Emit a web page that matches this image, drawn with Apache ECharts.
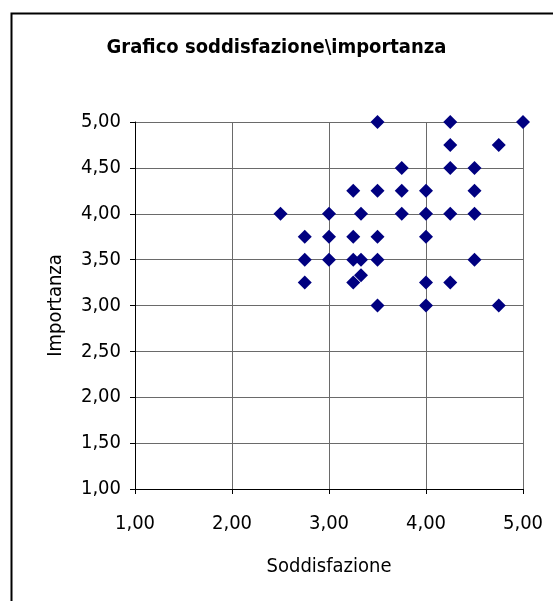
<!DOCTYPE html>
<html><head><meta charset="utf-8">
<script src="https://cdn.jsdelivr.net/npm/echarts@6/dist/echarts.min.js"></script>
<style>html,body{margin:0;padding:0;background:#fff;}#c{width:553px;height:601px;}</style>
</head><body><div id="c"></div>
<script>
const titleText = 'Grafico soddisfazione\\importanza';
const xName = 'Soddisfazione';
const yName = 'Importanza';
const soddisfazione = [2.5, 2.75, 2.75, 2.75, 3.0, 3.0, 3.0, 3.25, 3.25, 3.25, 3.25, 3.33, 3.33, 3.33, 3.5, 3.5, 3.5, 3.5, 3.5, 3.75, 3.75, 3.75, 4.0, 4.0, 4.0, 4.0, 4.0, 4.25, 4.25, 4.25, 4.25, 4.25, 4.5, 4.5, 4.5, 4.5, 4.75, 4.75, 5.0];
const importanza   = [4.0, 3.75, 3.5, 3.25, 4.0, 3.75, 3.5, 4.25, 3.75, 3.5, 3.25, 4.0, 3.5, 3.33, 5.0, 4.25, 3.75, 3.5, 3.0, 4.5, 4.25, 4.0, 4.25, 4.0, 3.75, 3.25, 3.0, 5.0, 4.75, 4.5, 4.0, 3.25, 4.5, 4.25, 4.0, 3.5, 4.75, 3.0, 5.0];
const xTicks = [1, 2, 3, 4, 5];
const yTicks = [1, 1.5, 2, 2.5, 3, 3.5, 4, 4.5, 5];

const FONT = '"DejaVu Sans Condensed", "DejaVu Sans", sans-serif';
const fmt = v => v.toFixed(2).replace('.', ',');
const chart = echarts.init(document.getElementById('c'), null, {renderer: 'canvas'});
chart.setOption({
  animation: false,
  backgroundColor: '#fff',
  title: {
    text: titleText, left: 'center', top: 33,
    textStyle: {fontFamily: FONT, fontWeight: 'bold', fontSize: 20, color: '#000'}
  },
  graphic: [{
    type: 'rect', shape: {x: 11.5, y: 13.5, width: 700, height: 700},
    style: {fill: 'none', stroke: '#000', lineWidth: 2}, silent: true, z: 100
  }],
  grid: {left: 135, top: 122, width: 388, height: 367},
  xAxis: {
    type: 'value', min: xTicks[0], max: xTicks[xTicks.length - 1], interval: 1,
    name: xName, nameLocation: 'middle', nameGap: 68,
    nameTextStyle: {fontFamily: FONT, fontSize: 20, color: '#000'},
    axisLine: {show: true, onZero: false, lineStyle: {color: '#000', width: 1}},
    axisTick: {show: true, inside: false, length: 5, lineStyle: {color: '#000'}},
    axisLabel: {formatter: fmt, margin: 25, fontFamily: FONT, fontSize: 20, color: '#000'},
    splitLine: {show: true, lineStyle: {color: '#6a6a6a', width: 1}}
  },
  yAxis: {
    type: 'value', min: yTicks[0], max: yTicks[yTicks.length - 1], interval: 0.5,
    name: yName, nameLocation: 'middle', nameGap: 69, nameRotate: 90,
    nameTextStyle: {fontFamily: FONT, fontSize: 20, color: '#000'},
    axisLine: {show: true, onZero: false, lineStyle: {color: '#000', width: 1}},
    axisTick: {show: true, inside: false, length: 5, lineStyle: {color: '#000'}},
    axisLabel: {formatter: fmt, margin: 14, fontFamily: FONT, fontSize: 20, color: '#000'},
    splitLine: {show: true, lineStyle: {color: '#6a6a6a', width: 1}}
  },
  series: [{
    type: 'scatter', symbol: 'diamond', symbolSize: 14,
    itemStyle: {color: '#000080', opacity: 1},
    data: soddisfazione.map((x, i) => [x, importanza[i]])
  }]
});
</script></body></html>
